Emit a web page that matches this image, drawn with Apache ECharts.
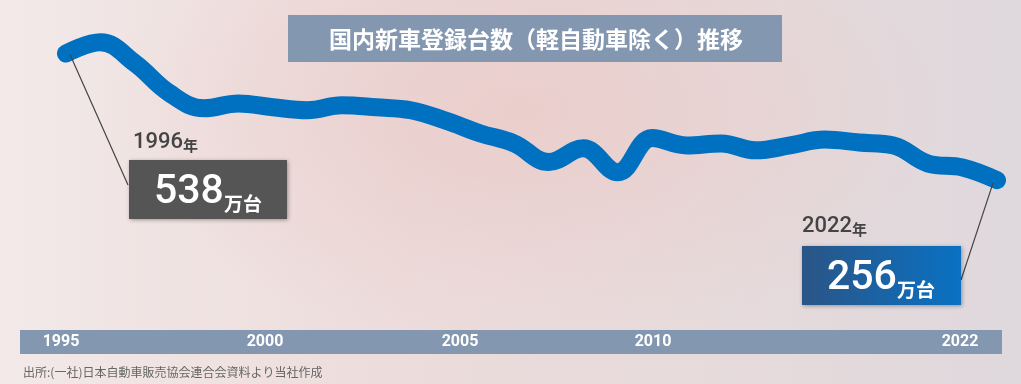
<!DOCTYPE html>
<html>
<head>
<meta charset="utf-8">
<script src="https://cdn.jsdelivr.net/npm/echarts@6/dist/echarts.min.js"></script>
<style>
html,body{margin:0;padding:0;width:1021px;height:384px;overflow:hidden;}
body{background:
 radial-gradient(ellipse 420px 230px at 520px 110px, rgba(234,204,202,0.9), rgba(234,206,204,0) 100%),
 linear-gradient(90deg,#f2e9e8 0%,#ecdcdb 40%,#e6dadb 70%,#dfd8dd 100%);}
#chart{width:1021px;height:384px;}
</style>
</head>
<body>
<div id="chart"></div>
<script>
// ---- data ----
const years = ['1995','1996','1997','1998','1999','2000','2001','2002','2003','2004','2005','2006','2007','2008','2009','2010','2011','2012','2013','2014','2015','2016','2017','2018','2019','2020','2021','2022'];
const registrations = [515,538,495,434,403,413,405,399,409,405,399,378,352,331,293,321,272,342,327,331,317,327,339,333,327,290,282,256]; // 万台
const tickLabels = ['1995','2000','2005','2010','2022'];
const title = '国内新車登録台数（軽自動車除く）推移';
const source = '出所:(一社)日本自動車販売協会連合会資料より当社作成';
const callouts = [
  {year:'1996', value:'538', unitYear:'年', unit:'万台', anchorIndex:0},
  {year:'2022', value:'256', unitYear:'年', unit:'万台', anchorIndex:27}
];

// ---- layout (positions only) ----
const tickX = [61,265,460,653,960];
const FONT = '"Noto Sans CJK JP","Noto Sans",sans-serif';
const NUMFONT = 'Roboto,"Noto Sans",sans-serif';

const chart = echarts.init(document.getElementById('chart'), null, {renderer:'canvas'});

function calloutGraphics(c, box, labelPos, fill){
  return [
    {type:'text', left:labelPos[0], top:labelPos[1], z:20,
     style:{text:'{a|'+c.year+'}{b|'+c.unitYear+'}',
       rich:{a:{fontFamily:NUMFONT,fontSize:22,fontWeight:500,fill:'#444444',verticalAlign:'bottom',lineHeight:24},
             b:{fontFamily:FONT,fontSize:15,fontWeight:'bold',fill:'#444444',verticalAlign:'bottom',lineHeight:20}}}},
    {type:'rect', shape:{x:box[0],y:box[1],width:box[2],height:box[3]}, z:20,
     style:{fill:fill, shadowBlur:4, shadowColor:'rgba(0,0,0,0.35)', shadowOffsetX:1, shadowOffsetY:1}},
    {type:'text', left:box[0]+25, top:box[1]+12, z:21,
     style:{text:'{a|'+c.value+'}{b|'+c.unit+'}',
       rich:{a:{fontFamily:NUMFONT,fontSize:41,fontWeight:500,fill:'#ffffff',verticalAlign:'bottom',lineHeight:44},
             b:{fontFamily:FONT,fontSize:19,fontWeight:'bold',fill:'#ffffff',verticalAlign:'bottom',lineHeight:32}}}}
  ];
}

const graphics = [
  {type:'rect', shape:{x:288,y:15,width:494,height:47}, style:{fill:'#8497b0'}, z:5},
  {type:'text', x:536, y:39, z:6, style:{text:title, fill:'#ffffff', font:'bold 23px '+FONT, textAlign:'center', textVerticalAlign:'middle'}},
  {type:'rect', shape:{x:20,y:330,width:982,height:24}, style:{fill:'#8497b0'}, z:5},
  {type:'text', x:23, y:372, z:6, style:{text:source, fill:'#666666', font:'12px '+FONT, textAlign:'left', textVerticalAlign:'middle'}}
];
tickLabels.forEach((t,i)=>{
  graphics.push({type:'text', x:tickX[i], y:342, z:6, style:{text:t, fill:'#ffffff', font:'bold 16px '+NUMFONT, textAlign:'center', textVerticalAlign:'middle'}});
});
graphics.push(...calloutGraphics(callouts[0],[129,160,158,59],[133,131],'#555555'));
graphics.push(...calloutGraphics(callouts[1],[802,246,159,59],[802,215],
  new echarts.graphic.LinearGradient(0,0,1,0,[{offset:0,color:'#2a5586'},{offset:1,color:'#0a71c3'}])));

chart.setOption({
  animation:false,
  backgroundColor:'transparent',
  grid:{left:66,right:24,top:12,bottom:176.5},
  xAxis:{type:'category',data:years,boundaryGap:false,show:false},
  yAxis:{type:'value',min:200,max:600,show:false},
  series:[{
    type:'line', data:registrations, smooth:0.4, symbol:'none', z:10,
    lineStyle:{width:18,color:'#0070c0',cap:'round',join:'round'}
  }],
  graphic:graphics
});

// connectors from data points to callout boxes
const p0 = chart.convertToPixel({gridIndex:0},[callouts[0].anchorIndex, registrations[callouts[0].anchorIndex]]);
const p1 = chart.convertToPixel({gridIndex:0},[callouts[1].anchorIndex, registrations[callouts[1].anchorIndex]]);
graphics.push({type:'line', z:15, shape:{x1:p0[0]+4,y1:p0[1]+1,x2:128,y2:185}, style:{stroke:'#444444',lineWidth:1.2}});
graphics.push({type:'line', z:15, shape:{x1:p1[0]-4,y1:p1[1]+3,x2:961,y2:280}, style:{stroke:'#444444',lineWidth:1.2}});
chart.setOption({graphic:graphics}, {replaceMerge:['graphic']});
</script>
</body>
</html>
